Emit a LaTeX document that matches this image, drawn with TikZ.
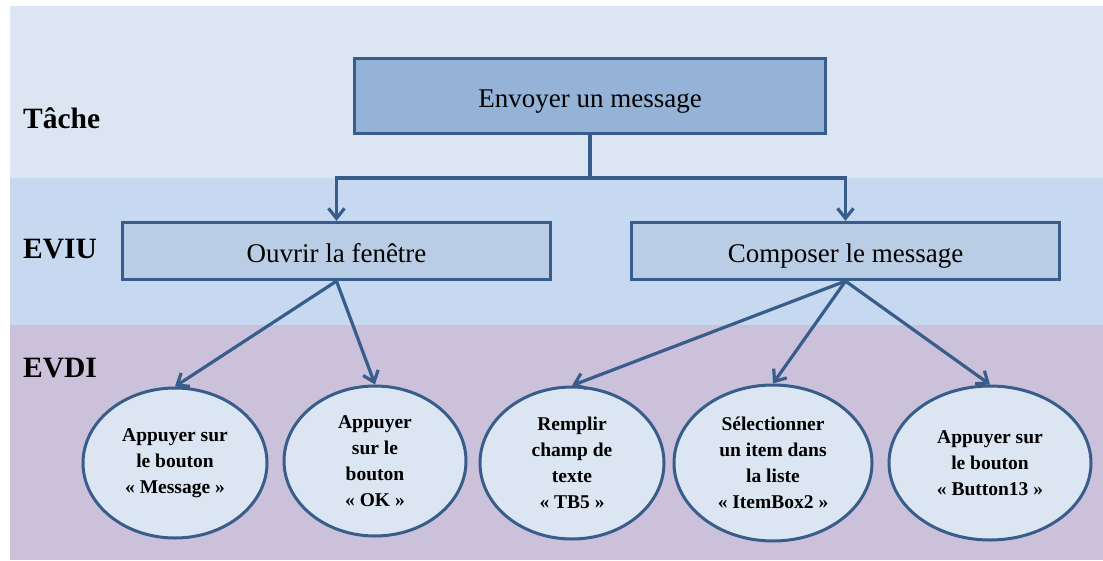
\documentclass[tikz,border=0pt]{standalone}
\usepackage{fontspec}
\setmainfont{Liberation Serif}
\usepackage{xcolor}
\usetikzlibrary{arrows.meta,positioning,shapes.geometric}
\definecolor{bandtache}{RGB}{220,230,242}
\definecolor{bandeviu}{RGB}{198,217,240}
\definecolor{bandevdi}{RGB}{204,193,218}
\definecolor{boxtop}{RGB}{149,179,215}
\definecolor{boxmid}{RGB}{185,205,229}
\definecolor{bordblue}{RGB}{56,93,138}

\begin{document}
\begin{tikzpicture}[
  x=1pt, y=-1pt,
  level/.style={font=\fontsize{29.5}{32}\selectfont\bfseries, anchor=base west, inner sep=0pt},
  task/.style={draw=bordblue, line width=3.2pt, fill=boxtop, minimum width=471pt, minimum height=75pt, text height=24pt, text depth=2pt, font=\fontsize{27}{32}\selectfont},
  subtask/.style={draw=bordblue, line width=3.2pt, fill=boxmid, minimum width=428pt, minimum height=57pt, text height=24pt, text depth=2pt, font=\fontsize{27}{32}\selectfont},
  action/.style={ellipse, draw=bordblue, line width=3pt, fill=bandtache, inner sep=0pt, minimum width=184pt, minimum height=150pt, align=center, font=\fontsize{19.5}{26}\selectfont\bfseries},
  link/.style={draw=bordblue, line width=3.2pt, -{Straight Barb[length=10pt,width=16pt]}}
]
\useasboundingbox (0,0) rectangle (1103,560);
\fill[bandtache] (10,6) rectangle (1103,178);
\fill[bandeviu] (10,178) rectangle (1103,325);
\fill[bandevdi] (10,325) rectangle (1103,560);

\node[level] (tache) at (23,128) {Tâche};
\node[level] (eviu) at (23,258) {EVIU};
\node[level] (evdi) at (23,377) {EVDI};

\node[task] (envoyer) at (590,96) {Envoyer un message};
\node[subtask] (ouvrir) at (336.5,251) {Ouvrir la fenêtre};
\node[subtask] (composer) at (845.5,251) {Composer le message};

\node[action, minimum width=184pt] (message) at (175,463) {Appuyer sur\\le bouton\\« Message »};
\node[action, minimum width=182pt] (ok) at (375,461) {Appuyer\\sur le\\bouton\\« OK »};
\node[action, minimum height=152pt] (tbcinq) at (572,463) {Remplir\\champ de\\texte\\« TB5 »};
\node[action, minimum width=198pt, minimum height=156pt] (itembox) at (773,463) {Sélectionner\\un item dans\\la liste\\« ItemBox2 »};
\node[action, minimum width=202pt, minimum height=154pt] (button) at (990,463) {Appuyer sur\\le bouton\\« Button13 »};

\coordinate (fork) at (590,178);
\draw[link] (envoyer.south) -- (fork) -| (ouvrir.north);
\draw[link] (fork) -| (composer.north);

\draw[link] (ouvrir.south) -- (message.north);
\draw[link] (ouvrir.south) -- (ok.north);
\draw[link] (composer.south) -- (tbcinq.north);
\draw[link] (composer.south) -- (itembox.north);
\draw[link] (composer.south) -- (button.north);

\end{tikzpicture}
\end{document}
